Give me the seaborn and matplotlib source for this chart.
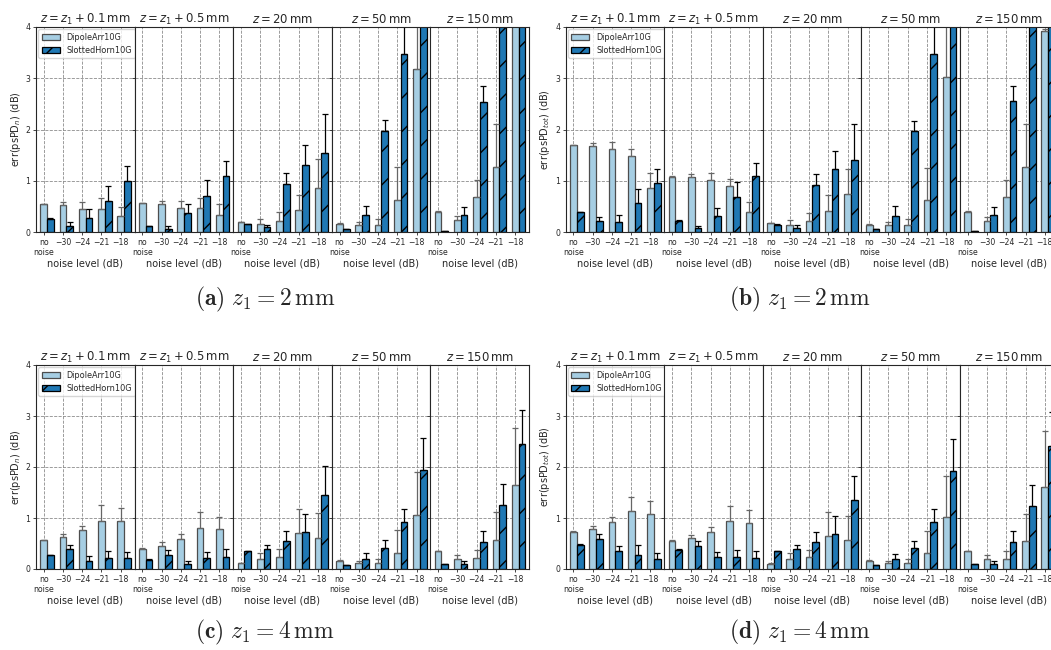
import numpy as np
import pandas as pd
import seaborn as sns
import matplotlib.pyplot as plt

# noise levels and the five z positions of every panel
levels = ["no\nnoise", "\u221230", "\u221224", "\u221221", "\u221218"]
z_titles = [r"$z = z_1 + 0.1\,\mathrm{mm}$", r"$z = z_1 + 0.5\,\mathrm{mm}$",
            r"$z = 20\,\mathrm{mm}$", r"$z = 50\,\mathrm{mm}$", r"$z = 150\,\mathrm{mm}$"]
antennas = ["DipoleArr10G", "SlottedHorn10G"]

# panel (a): err(psPD_n), z1 = 2 mm  (one row per z position)
a_dipole = [[0.54, 0.53, 0.45, 0.44, 0.31],
            [0.56, 0.55, 0.47, 0.46, 0.34],
            [0.19, 0.16, 0.21, 0.42, 0.85],
            [0.16, 0.13, 0.14, 0.62, 3.18],
            [0.40, 0.23, 0.69, 1.27, 4.40]]
a_dipole_err = [[0.01, 0.05, 0.14, 0.22, 0.18],
                [0.01, 0.05, 0.14, 0.21, 0.21],
                [0.01, 0.10, 0.18, 0.30, 0.57],
                [0.01, 0.07, 0.12, 0.65, 1.20],
                [0.01, 0.08, 0.32, 0.84, 1.00]]
a_slotted = [[0.26, 0.12, 0.27, 0.61, 1.00],
             [0.11, 0.06, 0.38, 0.71, 1.10],
             [0.15, 0.09, 0.94, 1.31, 1.54],
             [0.05, 0.33, 1.98, 3.48, 4.80],
             [0.01, 0.33, 2.54, 4.60, 5.00]]
a_slotted_err = [[0.01, 0.07, 0.17, 0.29, 0.29],
                 [0.01, 0.06, 0.17, 0.30, 0.29],
                 [0.01, 0.05, 0.22, 0.38, 0.76],
                 [0.01, 0.18, 0.20, 0.60, 0.50],
                 [0.00, 0.15, 0.30, 0.50, 0.50]]

# panel (b): err(psPD_tot), z1 = 2 mm
b_dipole = [[1.69, 1.67, 1.62, 1.48, 0.85],
            [1.08, 1.07, 1.02, 0.90, 0.39],
            [0.17, 0.13, 0.21, 0.41, 0.75],
            [0.14, 0.13, 0.14, 0.62, 3.02],
            [0.40, 0.22, 0.68, 1.27, 3.92]]
b_dipole_err = [[0.01, 0.06, 0.14, 0.14, 0.31],
                [0.01, 0.06, 0.14, 0.13, 0.20],
                [0.01, 0.10, 0.17, 0.31, 0.47],
                [0.01, 0.07, 0.12, 0.63, 1.20],
                [0.01, 0.08, 0.33, 0.83, 0.05]]
b_slotted = [[0.39, 0.21, 0.19, 0.56, 0.96],
             [0.22, 0.07, 0.31, 0.69, 1.10],
             [0.14, 0.07, 0.92, 1.23, 1.41],
             [0.05, 0.32, 1.98, 3.48, 4.80],
             [0.01, 0.33, 2.55, 4.60, 5.00]]
b_slotted_err = [[0.01, 0.08, 0.14, 0.28, 0.26],
                 [0.01, 0.04, 0.16, 0.28, 0.25],
                 [0.01, 0.06, 0.21, 0.35, 0.70],
                 [0.01, 0.18, 0.19, 0.60, 0.50],
                 [0.00, 0.15, 0.30, 0.50, 0.50]]

# panel (c): err(psPD_n), z1 = 4 mm
c_dipole = [[0.56, 0.63, 0.76, 0.95, 0.95],
            [0.40, 0.46, 0.58, 0.80, 0.78],
            [0.11, 0.20, 0.24, 0.71, 0.60],
            [0.16, 0.11, 0.12, 0.31, 1.06],
            [0.35, 0.19, 0.21, 0.57, 1.65]]
c_dipole_err = [[0.01, 0.06, 0.09, 0.31, 0.24],
                [0.01, 0.07, 0.11, 0.31, 0.24],
                [0.01, 0.12, 0.15, 0.46, 0.49],
                [0.01, 0.05, 0.07, 0.46, 0.84],
                [0.01, 0.09, 0.16, 0.54, 1.11]]
c_slotted = [[0.27, 0.39, 0.16, 0.22, 0.22],
             [0.18, 0.27, 0.09, 0.22, 0.23],
             [0.35, 0.39, 0.54, 0.72, 1.46],
             [0.07, 0.19, 0.41, 0.92, 1.95],
             [0.09, 0.10, 0.52, 1.25, 2.45]]
c_slotted_err = [[0.01, 0.08, 0.09, 0.14, 0.12],
                 [0.01, 0.10, 0.07, 0.12, 0.16],
                 [0.01, 0.09, 0.21, 0.35, 0.55],
                 [0.01, 0.12, 0.15, 0.26, 0.62],
                 [0.01, 0.06, 0.23, 0.42, 0.66]]

# panel (d): err(psPD_tot), z1 = 4 mm
d_dipole = [[0.73, 0.79, 0.92, 1.13, 1.08],
            [0.55, 0.60, 0.73, 0.95, 0.90],
            [0.10, 0.20, 0.23, 0.64, 0.57],
            [0.16, 0.11, 0.12, 0.31, 1.02],
            [0.35, 0.19, 0.20, 0.55, 1.61]]
d_dipole_err = [[0.01, 0.06, 0.10, 0.29, 0.26],
                [0.01, 0.07, 0.10, 0.29, 0.26],
                [0.01, 0.11, 0.14, 0.47, 0.46],
                [0.01, 0.05, 0.07, 0.44, 0.81],
                [0.01, 0.08, 0.16, 0.52, 1.10]]
d_slotted = [[0.48, 0.58, 0.35, 0.28, 0.20],
             [0.38, 0.46, 0.24, 0.23, 0.21],
             [0.35, 0.39, 0.53, 0.68, 1.35],
             [0.07, 0.19, 0.41, 0.92, 1.93],
             [0.09, 0.10, 0.52, 1.24, 2.42]]
d_slotted_err = [[0.01, 0.10, 0.11, 0.20, 0.11],
                 [0.01, 0.08, 0.09, 0.15, 0.14],
                 [0.01, 0.09, 0.20, 0.35, 0.48],
                 [0.01, 0.11, 0.14, 0.25, 0.62],
                 [0.01, 0.06, 0.23, 0.41, 0.66]]

sns.set_style("ticks")
colors = sns.color_palette("Paired")[:2]

fig = plt.figure(figsize=(10.51, 6.5), dpi=100)
sub_w = 98.6 / 1051


def draw_panel(left, bottom, height, dipole, dipole_err, slotted, slotted_err, ylabel):
    first = None
    for k in range(5):
        ax = fig.add_axes([left + k * sub_w, bottom, sub_w, height], sharey=first)
        if first is None:
            first = ax
        df = pd.DataFrame({
            "level": levels * 2,
            "antenna": [antennas[0]] * 5 + [antennas[1]] * 5,
            "value": dipole[k] + slotted[k],
        })
        sns.barplot(data=df, x="level", y="value", hue="antenna", order=levels,
                    hue_order=antennas, palette=colors, saturation=1, width=0.7,
                    ax=ax, edgecolor="k", linewidth=0.9, legend=False)
        bars = list(ax.containers)
        errs = [dipole_err[k], slotted_err[k]]
        ecols = ["0.4", "k"]
        for j, cont in enumerate(bars):
            xs = [p.get_x() + p.get_width() / 2 for p in cont.patches]
            hs = [p.get_height() for p in cont.patches]
            for p in cont.patches:
                if j == 0:
                    p.set_edgecolor("0.3")
                else:
                    p.set_hatch("/")
            ax.errorbar(xs, hs, yerr=[np.zeros(5), errs[j]], fmt="none",
                        ecolor=ecols[j], elinewidth=0.9, capsize=2, capthick=0.9)
        ax.set_axisbelow(True)
        ax.grid(True, ls="--", color="0.55", lw=0.6)
        ax.set_xticks(np.arange(5) - 0.175, levels)
        ax.set_xlim(-0.575, 4.545)
        ax.set_ylim(0, 4)
        ax.set_yticks([0, 1, 2, 3, 4])
        ax.tick_params(axis="both", labelsize=5.6, length=2.5, width=0.6, pad=1.5)
        ax.set_xlabel("noise level (dB)", fontsize=7, labelpad=1)
        ax.set_title(z_titles[k], fontsize=8.4, pad=3)
        for s in ax.spines.values():
            s.set_linewidth(0.8)
        if k == 0:
            ax.set_ylabel(ylabel, fontsize=7, labelpad=2)
            ax.legend(handles=bars, labels=antennas, loc="upper left",
                      fontsize=5.9, borderaxespad=0.3, handlelength=2.2)
        else:
            ax.set_ylabel("")
            ax.tick_params(axis="y", labelleft=False)


ylab_n = r"err(psPD$_n$) (dB)"
ylab_tot = r"err(psPD$_{tot}$) (dB)"
draw_panel(36 / 1051, 418 / 650, 205 / 650, a_dipole, a_dipole_err, a_slotted, a_slotted_err, ylab_n)
draw_panel(565.7 / 1051, 418 / 650, 205 / 650, b_dipole, b_dipole_err, b_slotted, b_slotted_err, ylab_tot)
draw_panel(36 / 1051, 81 / 650, 204 / 650, c_dipole, c_dipole_err, c_slotted, c_slotted_err, ylab_n)
draw_panel(565.7 / 1051, 81 / 650, 204 / 650, d_dipole, d_dipole_err, d_slotted, d_slotted_err, ylab_tot)

# panel captions
captions = [(0.252, 0.540, "a", "2"), (0.761, 0.540, "b", "2"),
            (0.252, 0.027, "c", "4"), (0.761, 0.027, "d", "4")]
for cx, cy, letter, z1 in captions:
    fig.text(cx, cy, r"$\mathbf{(%s)}\ z_1 = %s\,\mathrm{mm}$" % (letter, z1),
             fontsize=17, ha="center", va="center", math_fontfamily="cm")

fig.savefig("out.png", dpi=100)
